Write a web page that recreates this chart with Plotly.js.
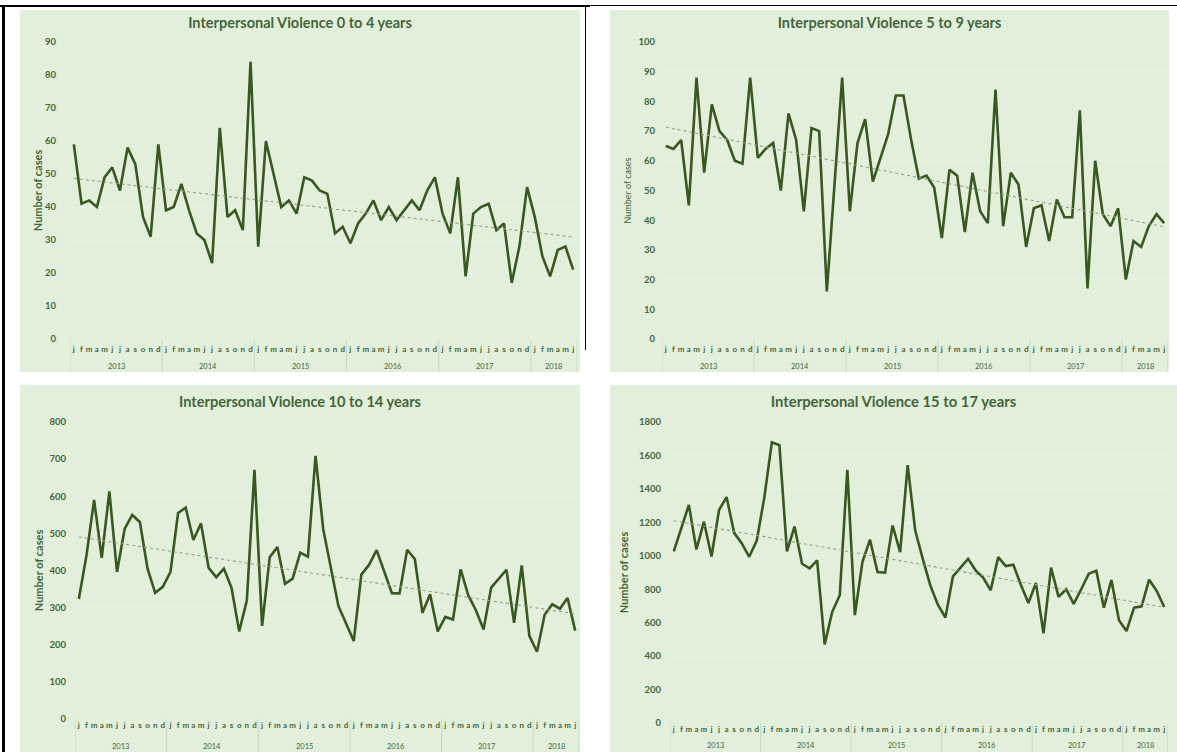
<!DOCTYPE html>
<html>
<head>
<meta charset="utf-8">
<script src="https://cdn.plot.ly/plotly-3.0.1.min.js"></script>
<style>
  html, body { margin:0; padding:0; background:#ffffff; width:1177px; height:752px; overflow:hidden; position:relative; }
  .panel { position:absolute; }
  .rule { position:absolute; background:#000; }
</style>
</head>
<body>
<div class="rule" style="left:0;top:5px;width:590px;height:2px;"></div>
<div class="rule" style="left:590px;top:5px;width:587px;height:1px;"></div>
<div class="rule" style="left:2px;top:5px;width:3px;height:747px;"></div>
<div class="rule" style="left:585px;top:5px;width:1px;height:345px;"></div>
<div id="p1" class="panel" style="left:20px;top:10px;"></div>
<div id="p2" class="panel" style="left:610px;top:10px;"></div>
<div id="p3" class="panel" style="left:20px;top:385px;"></div>
<div id="p4" class="panel" style="left:610px;top:385px;"></div>
<script>
// ---- data ----
const monthLetters = ['j','f','m','a','m','j','j','a','s','o','n','d'];
const years = ['2013','2014','2015','2016','2017','2018'];
const monthsInYear = [12,12,12,12,12,6];

const cases0to4 = [59,41,42,40,49,52,45,58,53,37,31,59,
                   39,40,47,39,32,30,23,64,37,39,33,84,
                   28,60,50,40,42,38,49,48,45,44,32,34,
                   29,35,38,42,36,40,36,39,42,39,45,49,
                   38,32,49,19,38,40,41,33,35,17,28,46,
                   37,25,19,27,28,21];
const cases5to9 = [65,64,67,45,88,56,79,70,67,60,59,88,
                   61,64,66,50,76,67,43,71,70,16,52,88,
                   43,66,74,53,61,69,82,82,67,54,55,51,
                   34,57,55,36,56,43,39,84,38,56,52,31,
                   44,45,33,47,41,41,77,17,60,42,38,44,
                   20,33,31,38,42,39];
const cases10to14 = [323,440,590,434,613,396,512,550,530,405,340,356,
                     396,555,569,482,527,407,382,405,353,236,319,671,
                     251,436,463,364,378,448,437,709,512,409,304,257,
                     210,389,415,455,397,339,338,456,431,286,336,236,
                     275,268,403,333,293,241,354,378,402,259,414,224,
                     181,281,309,297,326,238];
const cases15to17 = [1026,1161,1304,1038,1204,996,1274,1351,1137,1075,994,1091,
                     1349,1679,1661,1026,1175,952,925,972,470,665,764,1514,
                     645,962,1097,903,899,1181,1022,1542,1151,982,823,708,
                     631,877,927,982,913,869,794,992,938,946,827,718,
                     837,536,929,754,800,712,800,893,911,690,855,615,
                     550,690,698,857,790,694];

const panelTitles = ['Interpersonal Violence 0 to 4 years','Interpersonal Violence 5 to 9 years',
                     'Interpersonal Violence 10 to 14 years','Interpersonal Violence 15 to 17 years'];
const yMax = [90, 100, 800, 1800];
const yStep = [10, 10, 100, 200];
const yAxisTitle = 'Number of cases';

// ---- month positions / labels derived from the calendar arrays ----
const monthIdx = [], monthText = [], yearCenters = [], yearBounds = [-0.5];
let pos = 0;
years.forEach((yr, yi) => {
  const start = pos;
  for (let m = 0; m < monthsInYear[yi]; m++) { monthIdx.push(pos); monthText.push(monthLetters[m]); pos++; }
  yearCenters.push((start + pos - 1) / 2);
  yearBounds.push(pos - 0.5);
});

function linearFit(vals) {
  const n = vals.length;
  let sx=0, sy=0, sxx=0, sxy=0;
  vals.forEach((v,i)=>{ sx+=i; sy+=v; sxx+=i*i; sxy+=i*v; });
  const b = (n*sxy - sx*sy)/(n*sxx - sx*sx);
  const a = (sy - b*sx)/n;
  return vals.map((_,i)=> a + b*i);
}

const FONT = 'Lato, "Open Sans", sans-serif';
const TXT = '#44663a';
const BG = '#e2efda';
const LINE = '#385822';
const DIV = '#cbd8c3';

const geo = [
  {id:'p1', w:560, h:362, l:49.5, r:2.5, t:32.3, b:32.7, titleY:12.7, tsize:14.5, ytf:{size:11, weight:'bold'}, ystand:0, lstand:13, mOff:11, yOff:27.4},
  {id:'p2', w:559, h:362, l:52.2, r:0.6, t:32.3, b:32.7, titleY:12.7, tsize:14.5, ytf:{size:9, weight:'normal'}, ystand:5, lstand:6, mOff:11, yOff:27.4},
  {id:'p3', w:560, h:367, l:55.2, r:1.2, t:36.7, b:33.3, titleY:17, tsize:14.6, ytf:{size:11, weight:'bold'}, ystand:3, lstand:8, mOff:11.3, yOff:27.3},
  {id:'p4', w:567, h:367, l:60.2, r:9.2, t:36.5, b:28.5, titleY:16.7, tsize:14.8, ytf:{size:11, weight:'bold'}, ystand:8, lstand:8, mOff:9.5, yOff:22.5}
];
const series = [cases0to4, cases5to9, cases10to14, cases15to17];

series.forEach((vals, k) => {
  const g = geo[k];
  const el = document.getElementById(g.id);
  el.style.width = g.w + 'px'; el.style.height = g.h + 'px';
  const plotH = g.h - g.t - g.b;
  const traces = [
    {type:'scatter', mode:'lines', x:monthIdx, y:vals,
     line:{color:LINE, width:2.6}, hoverinfo:'skip'},
    {type:'scatter', mode:'lines', x:monthIdx, y:linearFit(vals),
     line:{color:'#8fa383', width:1.1, dash:'dot'}, hoverinfo:'skip'}
  ];
  const shapes = yearBounds.map(b => ({type:'line', xref:'x', yref:'paper', x0:b, x1:b,
      y0:0, y1:-(g.b + 2)/plotH, line:{color:DIV, width:1}}));
  const annotations = years.map((yr, i) => ({xref:'x', yref:'paper', x:yearCenters[i], y:0,
      yanchor:'middle', xanchor:'center', yshift:-g.yOff, showarrow:false, text:yr,
      font:{family:FONT, size:7.5, color:TXT}}));
  const layout = {
    width:g.w, height:g.h,
    paper_bgcolor:BG, plot_bgcolor:BG,
    margin:{l:g.l, r:g.r, t:g.t, b:g.b, pad:0},
    showlegend:false,
    font:{family:FONT, color:TXT},
    title:{text:panelTitles[k], font:{family:FONT, size:g.tsize, color:TXT, weight:'bold'},
           x:0.5, xref:'container', xanchor:'center', y:1 - g.titleY/g.h, yref:'container', yanchor:'middle'},
    xaxis:{range:[-0.5, monthIdx.length - 0.5], tickmode:'array', tickvals:monthIdx, ticktext:monthText,
           showgrid:false, zeroline:false, showline:false, ticks:'', tickangle:0, automargin:false,
           ticklabelstandoff:g.mOff - 7,
           tickfont:{family:FONT, size:8, color:TXT, weight:'bold'}},
    yaxis:{range:[0, yMax[k]], dtick:yStep[k], tick0:0, showgrid:true, gridcolor:'#ebf1e7', gridwidth:1,
           zeroline:false, showline:false, ticks:'', ticklabelstandoff:g.lstand, automargin:false,
           tickfont:{family:FONT, size:9.5, color:TXT, weight:'bold'},
           title:{text:yAxisTitle, standoff:g.ystand, font:Object.assign({family:FONT, color:TXT}, g.ytf)}},
    shapes:shapes,
    annotations:annotations
  };
  Plotly.newPlot(el, traces, layout, {staticPlot:true, displayModeBar:false});
});
</script>
</body>
</html>
